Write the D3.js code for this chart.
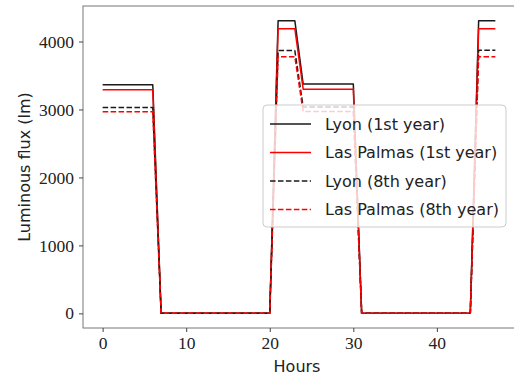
<!DOCTYPE html>
<html>
<head>
<meta charset="utf-8">
<script src="https://cdn.jsdelivr.net/npm/d3@7"></script>
<style>
  body { margin: 0; background: #fff; }
  .axis-label { font-family: "DejaVu Sans", sans-serif; font-size: 16px; fill: #222; }
  .legend-text { font-family: "DejaVu Sans", sans-serif; font-size: 16px; fill: #222; }
</style>
</head>
<body>
<svg id="chart" width="514" height="378"></svg>
<script>
// hours of the two-day profile
const hours = [0, 1, 2, 3, 4, 5, 6, 7, 8, 9, 10, 11, 12, 13, 14, 15, 16, 17, 18, 19,
  20, 21, 22, 23, 24, 25, 26, 27, 28, 29, 30, 31, 32, 33, 34, 35, 36, 37, 38, 39,
  40, 41, 42, 43, 44, 45, 46, 47];

const lyon1st = [3363, 3363, 3363, 3363, 3363, 3363, 3363, 0, 0, 0, 0, 0, 0, 0, 0, 0, 0, 0, 0, 0,
  0, 4307, 4307, 4307, 3373, 3373, 3373, 3373, 3373, 3373, 3373, 0, 0, 0, 0, 0, 0, 0, 0, 0,
  0, 0, 0, 0, 0, 4307, 4307, 4307];
const palmas1st = [3289, 3289, 3289, 3289, 3289, 3289, 3289, 0, 0, 0, 0, 0, 0, 0, 0, 0, 0, 0, 0, 0,
  0, 4189, 4189, 4189, 3299, 3299, 3299, 3299, 3299, 3299, 3299, 0, 0, 0, 0, 0, 0, 0, 0, 0,
  0, 0, 0, 0, 0, 4189, 4189, 4189];
const lyon8th = [3028, 3028, 3028, 3028, 3028, 3028, 3028, 0, 0, 0, 0, 0, 0, 0, 0, 0, 0, 0, 0, 0,
  0, 3866, 3866, 3866, 3036, 3036, 3036, 3036, 3036, 3036, 3036, 0, 0, 0, 0, 0, 0, 0, 0, 0,
  0, 0, 0, 0, 0, 3872, 3872, 3872];
const palmas8th = [2965, 2965, 2965, 2965, 2965, 2965, 2965, 0, 0, 0, 0, 0, 0, 0, 0, 0, 0, 0, 0, 0,
  0, 3776, 3776, 3776, 2969, 2969, 2969, 2969, 2969, 2969, 2969, 0, 0, 0, 0, 0, 0, 0, 0, 0,
  0, 0, 0, 0, 0, 3776, 3776, 3776];

const xTicks = [0, 10, 20, 30, 40];
const yTicks = [0, 1000, 2000, 3000, 4000];

const series = [
  {label: "Lyon (1st year)", values: lyon1st, color: "#1a1a1a", dash: null},
  {label: "Las Palmas (1st year)", values: palmas1st, color: "#ff0000", dash: null},
  {label: "Lyon (8th year)", values: lyon8th, color: "#1a1a1a", dash: "5.55,2.4"},
  {label: "Las Palmas (8th year)", values: palmas8th, color: "#ff0000", dash: "5.55,2.4"}
];

const margin = {left: 83, right: 515, top: 6, bottom: 328};

const svg = d3.select("#chart");

// matplotlib style 5% margins
const xMin = d3.min(hours), xMax = d3.max(hours);
const xPad = (xMax - xMin) * 0.05;
const yMax = d3.max(series, s => d3.max(s.values));
const yPad = yMax * 0.05;

const x = d3.scaleLinear().domain([xMin - xPad, xMax + xPad]).range([margin.left, margin.right]);
const y = d3.scaleLinear().domain([-yPad, yMax + yPad]).range([margin.bottom, margin.top]);

const line = d3.line()
  .x((d, i) => x(hours[i]))
  .y(d => y(d));

const plot = svg.append("g");

series.forEach(s => {
  plot.append("path")
    .datum(s.values)
    .attr("d", line)
    .attr("fill", "none")
    .attr("stroke", s.color)
    .attr("stroke-width", 1.5)
    .attr("stroke-dasharray", s.dash)
    .attr("stroke-linejoin", "round");
});

// spines
svg.append("rect")
  .attr("x", margin.left).attr("y", margin.top)
  .attr("width", margin.right - margin.left).attr("height", margin.bottom - margin.top)
  .attr("fill", "none")
  .attr("stroke", "#777")
  .attr("stroke-width", 1);

function styleAxis(axisG) {
  axisG.select(".domain").remove();
  axisG.selectAll(".tick line").attr("stroke", "#444");
  axisG.selectAll(".tick text")
    .attr("fill", "#222")
    .style("font-family", "'Liberation Serif', 'DejaVu Serif', serif")
    .style("font-size", "17.5px");
}

// x axis
const xAxis = svg.append("g")
  .attr("transform", `translate(0,${margin.bottom})`)
  .call(d3.axisBottom(x).tickValues(xTicks).tickSize(4).tickPadding(5).tickFormat(d3.format("d")));
styleAxis(xAxis);

// y axis
const yAxis = svg.append("g")
  .attr("transform", `translate(${margin.left},0)`)
  .call(d3.axisLeft(y).tickValues(yTicks).tickSize(4).tickPadding(5).tickFormat(d3.format("d")));
styleAxis(yAxis);

svg.append("text")
  .attr("class", "axis-label")
  .attr("x", (margin.left + margin.right) / 2 - 2)
  .attr("y", 372)
  .attr("text-anchor", "middle")
  .text("Hours");

svg.append("text")
  .attr("class", "axis-label")
  .attr("transform", `translate(30,${(margin.top + margin.bottom) / 2}) rotate(-90)`)
  .attr("text-anchor", "middle")
  .text("Luminous flux (lm)");

// legend
const legend = svg.append("g").attr("transform", "translate(263,105)");
legend.append("rect")
  .attr("width", 243).attr("height", 122)
  .attr("rx", 4).attr("ry", 4)
  .attr("fill", "#fff").attr("fill-opacity", 0.8)
  .attr("stroke", "#ccc").attr("stroke-width", 1);

series.forEach((s, i) => {
  const ly = 19 + i * 28.5;
  legend.append("line")
    .attr("x1", 7).attr("x2", 48)
    .attr("y1", ly).attr("y2", ly)
    .attr("stroke", s.color)
    .attr("stroke-width", 1.5)
    .attr("stroke-dasharray", s.dash);
  legend.append("text")
    .attr("class", "legend-text")
    .attr("x", 62).attr("y", ly)
    .attr("dy", "0.35em")
    .text(s.label);
});
</script>
</body>
</html>
